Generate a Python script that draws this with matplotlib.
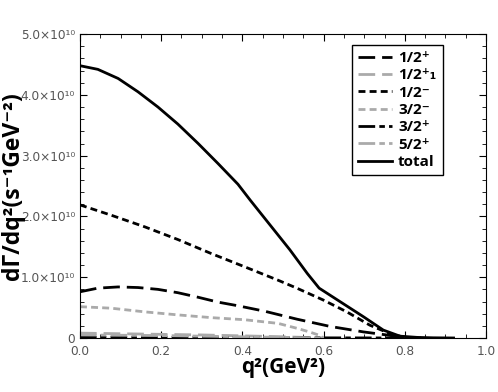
import numpy as np
import matplotlib.pyplot as plt
from matplotlib.ticker import MultipleLocator, FuncFormatter

# q^2 (GeV^2) and dGamma/dq^2 in units of 1e10 s^-1 GeV^-2
q2_total = [0.0, 0.044, 0.094, 0.143, 0.192, 0.241, 0.291, 0.34, 0.389, 0.419,
            0.468, 0.517, 0.56, 0.589, 0.64, 0.698, 0.747, 0.788, 0.83, 0.87, 0.92]
total = [4.48, 4.42, 4.27, 4.05, 3.80, 3.52, 3.20, 2.87, 2.53, 2.27,
         1.86, 1.45, 1.06, 0.82, 0.60, 0.35, 0.13, 0.03, 0.01, 0.003, 0.0]

q2_half_minus = [0.0, 0.077, 0.159, 0.241, 0.323, 0.406, 0.488, 0.534, 0.599,
                 0.657, 0.714, 0.764, 0.8, 0.84]
half_minus = [2.19, 2.02, 1.83, 1.62, 1.39, 1.17, 0.95, 0.82, 0.625,
              0.43, 0.21, 0.07, 0.01, 0.0]

q2_half_plus = [0.0, 0.044, 0.094, 0.143, 0.192, 0.241, 0.291, 0.34, 0.389, 0.455,
                0.534, 0.616, 0.698, 0.755, 0.8]
half_plus = [0.76, 0.82, 0.84, 0.83, 0.80, 0.745, 0.67, 0.59, 0.53, 0.44,
             0.31, 0.19, 0.10, 0.05, 0.005]

q2_three_minus = [0.0, 0.077, 0.159, 0.241, 0.323, 0.406, 0.488, 0.534, 0.565, 0.587, 0.6]
three_minus = [0.515, 0.49, 0.43, 0.38, 0.335, 0.30, 0.24, 0.16, 0.10, 0.05, 0.0]

q2_half_plus1 = [0.0, 0.1, 0.2, 0.3, 0.4, 0.5, 0.6]
half_plus1 = [0.08, 0.07, 0.06, 0.05, 0.035, 0.02, 0.0]

q2_three_plus = [0.0, 0.2, 0.4, 0.6, 0.8]
three_plus = [0.01, 0.008, 0.005, 0.002, 0.0]

q2_five_plus = [0.0, 0.1, 0.2, 0.3, 0.4, 0.5, 0.6]
five_plus = [0.05, 0.045, 0.04, 0.03, 0.02, 0.01, 0.0]

gray = "#aaaaaa"
fonts = ["Open Sans", "DejaVu Sans"]

fig = plt.figure(figsize=(4.98, 3.92), dpi=100)
ax = fig.add_axes([0.1606, 0.1378, 0.8154, 0.7752])

ax.plot(q2_half_plus, half_plus, color="black", lw=2, dashes=(6, 2.5), label="1/2⁺")
ax.plot(q2_half_plus1, half_plus1, color=gray, lw=2, dashes=(6, 2.5), label="1/2⁺₁")
ax.plot(q2_half_minus, half_minus, color="black", lw=2, dashes=(2.5, 1.5), label="1/2⁻")
ax.plot(q2_three_minus, three_minus, color=gray, lw=2, dashes=(2.5, 1.5), label="3/2⁻")
ax.plot(q2_three_plus, three_plus, color="black", lw=2, dashes=(6, 1.5, 2, 1.5), label="3/2⁺")
ax.plot(q2_five_plus, five_plus, color=gray, lw=2, dashes=(6, 1.5, 2, 1.5), label="5/2⁺")
ax.plot(q2_total, total, color="black", lw=2, label="total")

ax.set_xlim(0, 1.0)
ax.set_ylim(0, 5.0)
ax.xaxis.set_major_locator(MultipleLocator(0.2))
ax.xaxis.set_minor_locator(MultipleLocator(0.05))
ax.yaxis.set_major_locator(MultipleLocator(1.0))
ax.yaxis.set_minor_locator(MultipleLocator(0.2))
ax.xaxis.set_major_formatter(FuncFormatter(lambda v, p: f"{v:.1f}"))
ax.yaxis.set_major_formatter(FuncFormatter(lambda v, p: "0" if v == 0 else f"{v:.1f}×10¹⁰"))
ax.tick_params(which="both", direction="in", top=True, right=True, labelsize=8.7,
               labelcolor="#555555")
ax.tick_params(axis="x", pad=5)
ax.tick_params(which="major", length=5)
ax.tick_params(which="minor", length=3)

ax.set_xlabel("q²(GeV²)", fontsize=15, fontweight="bold", family=fonts, labelpad=-1)
ax.set_ylabel("dΓ/dq²(s⁻¹GeV⁻²)", fontsize=16.5, fontweight="bold", family=fonts)
ax.yaxis.set_label_coords(-0.135, 0.5)

leg = ax.legend(loc="upper right", bbox_to_anchor=(0.893, 0.965), fancybox=False,
                edgecolor="black", framealpha=1, handlelength=2.2, handletextpad=0.4,
                labelspacing=0.22, borderaxespad=0,
                prop={"weight": "bold", "size": 11, "family": fonts})
leg.get_frame().set_linewidth(1)

fig.savefig("out.png", dpi=100)
